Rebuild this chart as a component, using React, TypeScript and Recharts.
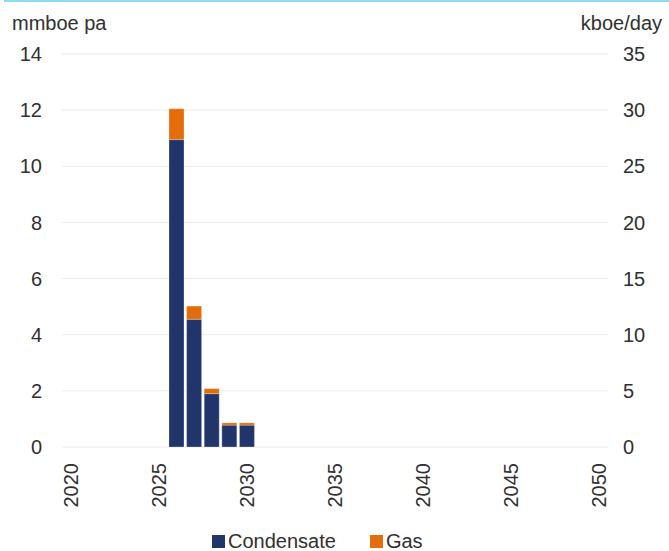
import React from 'react';
import { ComposedChart, Bar, Line, XAxis, YAxis, CartesianGrid, Legend } from 'recharts';

// Production profile, annual volumes in mmboe
const firstYear = 2020;
const lastYear = 2050;
const productionYears = [2026, 2027, 2028, 2029, 2030];
const condensate = [10.95, 4.55, 1.9, 0.78, 0.78];
const gas = [1.1, 0.47, 0.18, 0.08, 0.08];

const leftTicks = [0, 2, 4, 6, 8, 10, 12, 14];
const rightTicks = [0, 5, 10, 15, 20, 25, 30, 35];

const NAVY = '#22356b';
const ORANGE = '#e46c0a';
const TEXT = '#303030';
const FONT = '"Liberation Sans", Arial, sans-serif';
const TICK_SIZE = 20;

const data: { year: string; condensate: number | null; gas: number | null; rate: number | null }[] = [];
for (let y = firstYear; y <= lastYear; y++) {
  const i = productionYears.indexOf(y);
  data.push({
    year: String(y),
    condensate: i >= 0 ? condensate[i] : null,
    gas: i >= 0 ? gas[i] : null,
    rate: null,
  });
}

const YearTick = (props: any) => {
  const { x, y, payload } = props;
  return (
    <text
      x={x}
      y={y}
      transform={`rotate(-90 ${x} ${y})`}
      textAnchor="end"
      dy="0.36em"
      fill={TEXT}
      fontSize={TICK_SIZE}
      fontFamily={FONT}
    >
      {payload.value}
    </text>
  );
};

const RateTick = (props: any) => {
  const { x, y, payload } = props;
  return (
    <text x={x} y={y} dy="0.355em" textAnchor="start" fill={TEXT} fontSize={TICK_SIZE} fontFamily={FONT}>
      {payload.value}
    </text>
  );
};

const LegendContent = () => (
  <div
    style={{
      display: 'flex',
      alignItems: 'center',
      height: 20,
      fontFamily: FONT,
      fontSize: 20,
      color: TEXT,
      whiteSpace: 'nowrap',
    }}
  >
    <span style={{ width: 13, height: 13, background: NAVY, display: 'inline-block', marginRight: 3 }} />
    <span>Condensate</span>
    <span style={{ width: 13, height: 13, background: ORANGE, display: 'inline-block', marginLeft: 34, marginRight: 3 }} />
    <span>Gas</span>
  </div>
);

export default function App() {
  return (
    <div style={{ position: 'absolute', left: 0, top: 0, width: 669, height: 551, background: '#fff' }}>
      <div style={{ position: 'absolute', left: 4, top: 0, right: 0, height: 2, background: '#8ddcf6' }} />
      <div style={{ position: 'absolute', left: 12, top: 12, fontFamily: FONT, fontSize: 20, color: TEXT }}>
        mmboe pa
      </div>
      <div style={{ position: 'absolute', right: 7, top: 12, fontFamily: FONT, fontSize: 20, color: TEXT }}>
        kboe/day
      </div>
      <ComposedChart
        width={669}
        height={551}
        data={data}
        margin={{ top: 54, right: 0, bottom: 24, left: 0 }}
        barCategoryGap="7.5%"
      >
        <CartesianGrid vertical={false} stroke="#ececec" strokeWidth={1} yAxisId="left" />
        <XAxis
          dataKey="year"
          interval={4}
          axisLine={false}
          tickLine={false}
          tickSize={0}
          tickMargin={16}
          height={60}
          tick={<YearTick />}
        />
        <YAxis
          yAxisId="left"
          orientation="left"
          domain={[0, 14]}
          ticks={leftTicks}
          width={62}
          axisLine={false}
          tickLine={false}
          tickSize={0}
          tickMargin={20}
          tick={{ fill: TEXT, fontSize: TICK_SIZE, fontFamily: FONT }}
        />
        <YAxis
          yAxisId="right"
          orientation="right"
          type="number"
          domain={[0, 35]}
          ticks={rightTicks}
          allowDataOverflow
          width={61}
          axisLine={false}
          tickLine={false}
          tickSize={0}
          tickMargin={15}
          tick={<RateTick />}
        />
        <Legend
          content={<LegendContent />}
          wrapperStyle={{ position: 'absolute', left: 212, top: 531, width: 'auto', height: 20 }}
        />
        <Bar
          yAxisId="left"
          dataKey="condensate"
          name="Condensate"
          stackId="p"
          fill={NAVY}
          stroke="#ffffff"
          strokeOpacity={0.45}
          strokeWidth={0.6}
          isAnimationActive={false}
        />
        <Bar
          yAxisId="left"
          dataKey="gas"
          name="Gas"
          stackId="p"
          fill={ORANGE}
          stroke="#ffffff"
          strokeOpacity={0.45}
          strokeWidth={0.6}
          isAnimationActive={false}
        />
        {/* daily-rate scale on the right axis; carries no plotted values */}
        <Line
          yAxisId="right"
          dataKey="rate"
          stroke="none"
          dot={false}
          activeDot={false}
          legendType="none"
          isAnimationActive={false}
        />
      </ComposedChart>
    </div>
  );
}
